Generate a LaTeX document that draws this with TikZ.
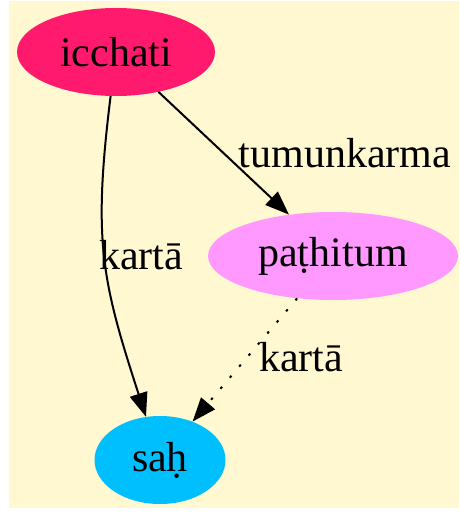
\documentclass[tikz,border=0pt]{standalone}
\usepackage{fontspec}
\setmainfont{Liberation Serif}
\usetikzlibrary{arrows.meta,positioning,shapes.geometric}
\definecolor{bgyellow}{RGB}{255,248,208}
\definecolor{verbpink}{RGB}{255,26,110}
\definecolor{infviolet}{RGB}{255,153,255}
\definecolor{nounblue}{RGB}{0,191,255}
\tikzset{
  wordnode/.style={
    ellipse,inner sep=0pt,minimum height=88pt,
    font=\fontsize{42}{50}\selectfont
  },
  verbnode/.style={wordnode,fill=verbpink,minimum width=198pt},
  infnode/.style={wordnode,fill=infviolet,minimum width=250pt},
  nounnode/.style={wordnode,fill=nounblue,minimum width=131pt},
  edgelabel/.style={font=\fontsize{42}{50}\selectfont,inner sep=1pt},
  relarrow/.style={-{Triangle[length=24pt,width=18pt]},line width=2pt},
  dotarrow/.style={relarrow,dash pattern=on 2.5pt off 12pt}
}

\begin{document}
\begin{tikzpicture}[x=1pt,y=-1pt]
  \fill[bgyellow] (9,1) rectangle (459,508);
  \useasboundingbox (0,0) rectangle (459,513);
  \node[verbnode] (icchati) at (116,52) {icchati};
  \node[infnode] (pathitum) at (333,256) {paṭhitum};
  \node[nounnode] (sah) at (160,460) {saḥ};
  % labels
  \node[edgelabel] (kartaA) at (141,255) {kartā};
  \node[edgelabel] (tumun) at (345,153) {tumunkarma};
  \node[edgelabel] (kartaB) at (301,357) {kartā};
  % edges
  \draw[relarrow] (icchati) to[out=-97,in=108,looseness=1.15] (sah);
  \draw[relarrow] (icchati) -- (pathitum);
  \draw[dotarrow] (pathitum) -- (sah);
\end{tikzpicture}
\end{document}
